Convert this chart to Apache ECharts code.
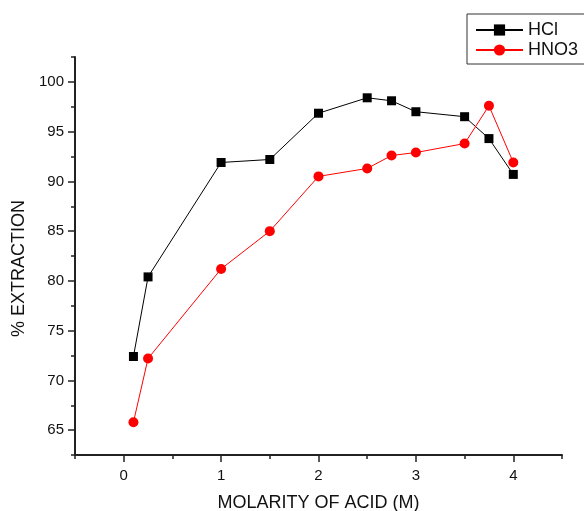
<!DOCTYPE html>
<html>
<head>
<meta charset="utf-8">
<script src="https://cdn.jsdelivr.net/npm/echarts@6/dist/echarts.min.js"></script>
<style>
    html, body { margin: 0; padding: 0; background: #fff; }
    #main { width: 584px; height: 511px; }
</style>
</head>
<body>
<div id="main"></div>
<script>
    // 数据
    let molarity = [0.1, 0.25, 1, 1.5, 2, 2.5, 2.75, 3, 3.5, 3.75, 4];
    let hclValues = [72.4, 80.4, 91.9, 92.2, 96.85, 98.4, 98.1, 97.0, 96.5, 94.3, 90.7];
    let hno3Values = [65.8, 72.2, 81.2, 85.0, 90.5, 91.3, 92.6, 92.9, 93.8, 97.6, 91.9];
    let xMajorTicks = [0, 1, 2, 3, 4];
    let xMinorTicks = [-0.5, 0.5, 1.5, 2.5, 3.5, 4.5];
    let yMajorTicks = [65, 70, 75, 80, 85, 90, 95, 100];
    let yMinorTicks = [62.5, 67.5, 72.5, 77.5, 82.5, 87.5, 92.5, 97.5, 102.5];

    function pairs(xs, ys) {
        let out = [];
        xs.forEach(function (x, i) {
            out.push([x, ys[i]]);
        });
        return out;
    }

    let font = '"Liberation Sans", Arial, sans-serif';
    let myChart = echarts.init(document.getElementById('main'));

    myChart.setOption({
        animation: false,
        grid: {left: 75, right: 22, top: 57, bottom: 56, containLabel: false, outerBoundsMode: 'none'},
        legend: {
            orient: 'vertical',
            left: 467,
            top: 14,
            padding: [7, 8, 5, 8],
            itemWidth: 47,
            itemHeight: 14,
            itemGap: 2,
            borderColor: '#333',
            borderWidth: 1,
            borderRadius: 0,
            textStyle: {fontFamily: font, fontSize: 18, color: '#111', lineHeight: 18},
            data: ['HCl', 'HNO3']
        },
        xAxis: [
            {
                type: 'value',
                min: -0.5,
                max: 4.5,
                name: 'MOLARITY OF ACID (M)',
                nameLocation: 'middle',
                nameGap: 39,
                nameTextStyle: {fontFamily: font, fontSize: 18, color: '#111'},
                splitLine: {show: false},
                axisLine: {onZero: false, lineStyle: {color: '#222', width: 2}},
                axisTick: {customValues: xMajorTicks, length: 7, lineStyle: {color: '#222', width: 1.5}},
                axisLabel: {customValues: xMajorTicks, margin: 13, fontFamily: font, fontSize: 15, color: '#111'}
            },
            {
                type: 'value',
                position: 'bottom',
                min: -0.5,
                max: 4.5,
                splitLine: {show: false},
                axisLine: {show: false, onZero: false},
                axisTick: {customValues: xMinorTicks, length: 4, lineStyle: {color: '#222', width: 1.5}},
                axisLabel: {show: false}
            }
        ],
        yAxis: [
            {
                type: 'value',
                min: 62.5,
                max: 102.5,
                name: '% EXTRACTION',
                nameLocation: 'middle',
                nameGap: 46,
                nameTextStyle: {fontFamily: font, fontSize: 18, color: '#111', padding: [0, 25, 0, 0]},
                splitLine: {show: false},
                axisLine: {onZero: false, lineStyle: {color: '#222', width: 2}},
                axisTick: {customValues: yMajorTicks, length: 7, lineStyle: {color: '#222', width: 1.5}},
                axisLabel: {customValues: yMajorTicks, margin: 11, fontFamily: font, fontSize: 15, color: '#111'}
            },
            {
                type: 'value',
                position: 'left',
                min: 62.5,
                max: 102.5,
                splitLine: {show: false},
                axisLine: {show: false, onZero: false},
                axisTick: {customValues: yMinorTicks, length: 4, lineStyle: {color: '#222', width: 1.5}},
                axisLabel: {show: false}
            }
        ],
        series: [
            {
                name: 'HCl',
                type: 'line',
                data: pairs(molarity, hclValues),
                symbol: 'rect',
                symbolSize: 9,
                itemStyle: {color: '#000'},
                lineStyle: {color: '#000', width: 1}
            },
            {
                name: 'HNO3',
                type: 'line',
                data: pairs(molarity, hno3Values),
                symbol: 'circle',
                symbolSize: 10,
                itemStyle: {color: '#ff0000'},
                lineStyle: {color: '#ff0000', width: 1}
            }
        ]
    });
</script>
</body>
</html>
